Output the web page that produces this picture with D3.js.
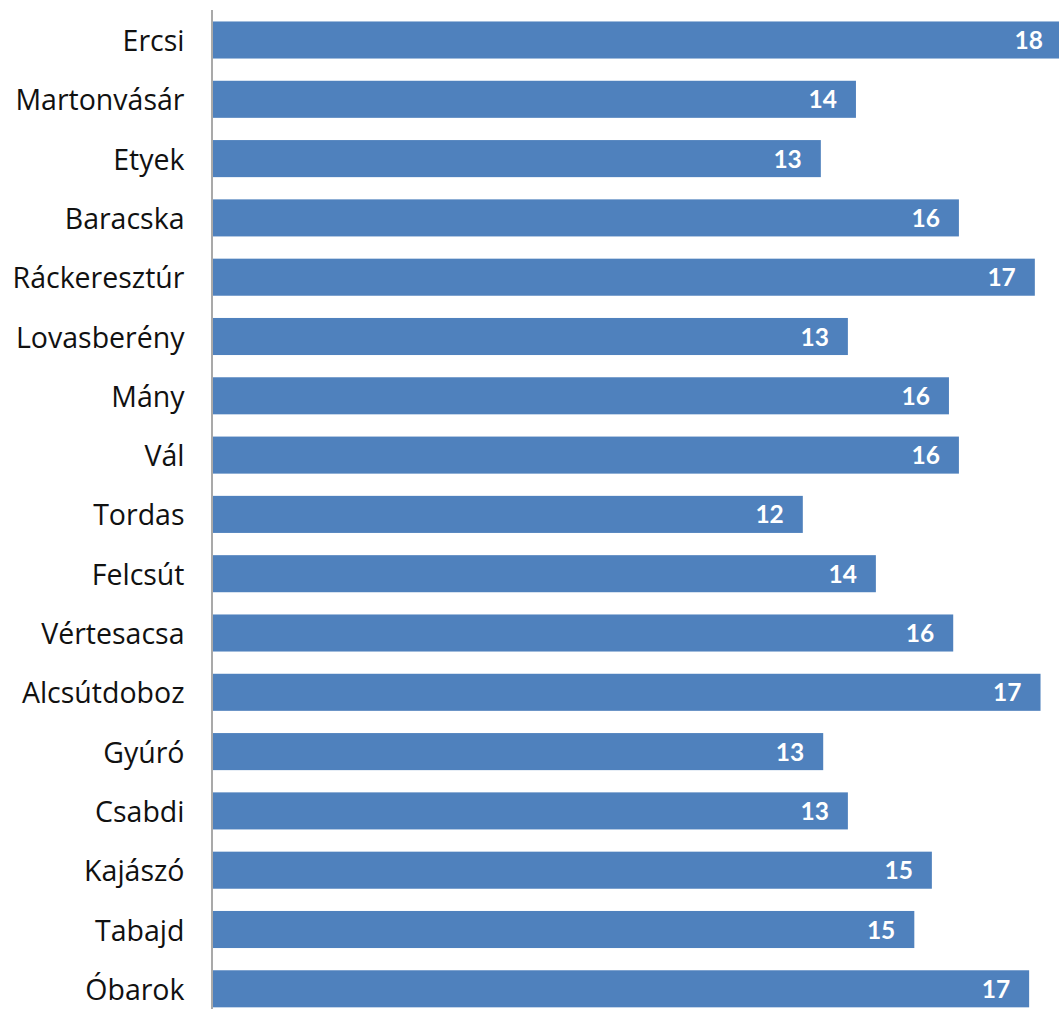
<!DOCTYPE html>
<html>
<head>
<meta charset="utf-8">
<script src="https://cdn.jsdelivr.net/npm/d3@7"></script>
<style>
html,body{margin:0;padding:0;background:#fff;overflow:hidden;}
svg{display:block;}
</style>
</head>
<body>
<svg id="chart" width="1059" height="1009"></svg>
<script>
const categories = ["Ercsi","Martonvásár","Etyek","Baracska","Ráckeresztúr","Lovasberény","Mány","Vál","Tordas","Felcsút","Vértesacsa","Alcsútdoboz","Gyúró","Csabdi","Kajászó","Tabajd","Óbarok"];
const values = [17.89,13.55,12.81,15.72,17.32,13.38,15.51,15.72,12.43,13.97,15.60,17.44,12.86,13.38,15.15,14.78,17.20];

const svg = d3.select("#chart");
const x0 = 213;
const x = d3.scaleLinear().domain([0, 18]).range([x0, x0 + 18 * 47.45]);
const y = d3.scaleBand().domain(categories).range([10.35, 10.35 + 17 * 59.3])
  .paddingInner(0.375).paddingOuter(0.1875);

const data = categories.map((c, i) => ({c, v: values[i]}));

svg.append("g").selectAll("rect").data(data).join("rect")
  .attr("x", x(0))
  .attr("y", d => y(d.c))
  .attr("width", d => x(d.v) - x(0))
  .attr("height", y.bandwidth())
  .attr("fill", "#4f81bd");

svg.append("g").selectAll("text").data(data).join("text")
  .attr("x", d => x(d.v) - 19)
  .attr("y", d => y(d.c) + y.bandwidth() / 2 + 9)
  .attr("text-anchor", "end")
  .attr("fill", "#fff")
  .attr("font-family", "Lato, 'Open Sans', sans-serif")
  .attr("font-weight", "bold")
  .attr("font-size", 24.5)
  .text(d => d3.format(".0f")(d.v));

// category axis
const yAxis = d3.axisLeft(y).tickSize(0).tickPadding(28);
const ga = svg.append("g").attr("transform", `translate(${x0 - 0.5},0)`).call(yAxis);
ga.select(".domain").remove();
ga.selectAll("text")
  .attr("font-family", "'Open Sans', Lato, sans-serif")
  .attr("font-size", 28.5)
  .attr("fill", "#111")
  .attr("dy", null)
  .attr("dominant-baseline", "central");

svg.append("line")
  .attr("x1", x0 - 1).attr("x2", x0 - 1)
  .attr("y1", 10).attr("y2", 1009)
  .attr("stroke", "#8c8c8c").attr("stroke-width", 1.5);
</script>
</body>
</html>
